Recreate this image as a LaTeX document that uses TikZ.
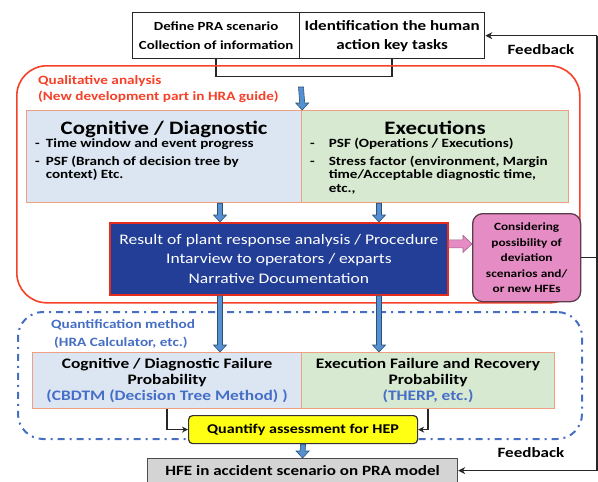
\documentclass[tikz,border=0pt]{standalone}
\usepackage{fontspec}
\setmainfont{Carlito}[FakeStretch=1.2]
\usetikzlibrary{calc,arrows.meta}
\definecolor{qred}{RGB}{246,64,40}
\definecolor{cogfill}{RGB}{220,230,242}
\definecolor{execfill}{RGB}{215,233,208}
\definecolor{salmon}{RGB}{240,160,130}
\definecolor{dblue}{RGB}{34,62,150}
\definecolor{dred}{RGB}{228,45,30}
\definecolor{pinkfill}{RGB}{230,140,196}
\definecolor{pinkbd}{RGB}{90,60,75}
\definecolor{ablue}{RGB}{85,145,210}
\definecolor{qblue}{RGB}{70,110,195}
\definecolor{tblue}{RGB}{70,110,200}
\definecolor{hyellow}{RGB}{255,255,20}
\definecolor{hgray}{RGB}{212,212,212}
\newcommand\blkdown[2]{%
  \draw[fill=ablue, draw=ablue!55!black, line width=0.6pt]
    ($(#1)+(-2.5,0)$) -- ($(#2)+(-2.5,-7)$) -- ($(#2)+(-6.5,-7)$) -- (#2)
    -- ($(#2)+(6.5,-7)$) -- ($(#2)+(2.5,-7)$) -- ($(#1)+(2.5,0)$) -- cycle;}
\newcommand\blkright[2]{%
  \draw[fill=pinkfill, draw=pinkfill!70!black, line width=0.6pt]
    ($(#1)+(0,-4)$) -- ($(#2)+(-9,-4)$) -- ($(#2)+(-9,-8.5)$) -- (#2)
    -- ($(#2)+(-9,8.5)$) -- ($(#2)+(-9,4)$) -- ($(#1)+(0,4)$) -- cycle;}
\begin{document}
\begin{tikzpicture}[x=1pt,y=-1pt,
  topbox/.style={draw=black!85, line width=1.3pt, inner sep=0pt, anchor=north west, align=center},
  pbox/.style={draw=salmon, line width=1.2pt, inner sep=0pt, anchor=north west},
  txt/.style={inner sep=0pt},
  fbarrow/.style={line width=1.5pt, draw=black!85, -{Stealth[length=7pt,width=7pt]}},
  elb/.style={line width=1.3pt, draw=black!85, -{Stealth[length=6pt,width=6pt]}}]
\useasboundingbox (0,0) rectangle (598,482);

% top boxes
\node[topbox, minimum width=167pt, minimum height=46pt, font=\bfseries\fontsize{12.4}{19}\selectfont] (top1) at (132,12) {Define PRA scenario\\Collection of information};
\node[topbox, minimum width=185pt, minimum height=46pt, font=\bfseries\fontsize{14.2}{19}\selectfont] (top2) at (299,12) {Identification the human\\action key tasks};
\draw[line width=1.5pt, draw=black!85] (top1.south) -- ($(top1.south)+(0,17)$) -| (top2.south);

% qualitative frame
\node[draw=qred, line width=1.6pt, rounded corners=30pt, minimum width=563pt, minimum height=237pt, anchor=north west, inner sep=0pt] (qual) at (16,65) {};
\node[txt, anchor=north west, align=left, text=qred, font=\bfseries\fontsize{12.7}{16}\selectfont] (qualT) at (38,75) {Qualitative analysis\\(New development part in HRA guide)};

\node[pbox, fill=cogfill, minimum width=275pt, minimum height=92pt] (cog) at (26,110) {};
\node[pbox, fill=execfill, minimum width=267pt, minimum height=92pt] (exec) at (301,110) {};
\node[txt, anchor=base, font=\bfseries\fontsize{19}{22}\selectfont] (cogT) at ($(cog.north)+(0,24)$) {Cognitive / Diagnostic};
\node[txt, anchor=base, font=\bfseries\fontsize{19}{22}\selectfont] (execT) at ($(exec.north)+(0,24)$) {Executions};
\node[txt, anchor=north west, align=left, font=\bfseries\fontsize{12.6}{13.5}\selectfont] (cogB) at (35,138)
  {\begin{tabular}{@{}l@{\hspace{6pt}}l@{}}-&Time window and event progress\\[4pt]-&PSF (Branch of decision tree by\\&context) Etc.\end{tabular}};
\node[txt, anchor=north west, align=left, font=\bfseries\fontsize{12.6}{13.5}\selectfont] (execB) at (310,138)
  {\begin{tabular}{@{}l@{\hspace{14pt}}l@{}}-&PSF (Operations / Executions)\\[4pt]-&Stress factor (environment, Margin\\&time/Acceptable diagnostic time,\\&etc.,\end{tabular}};

\coordinate (a0) at (301,87);
\blkdown{a0}{cog.north east}

\node[draw=dred, line width=1.8pt, fill=dblue, minimum width=338pt, minimum height=72pt, anchor=north west, inner sep=0pt, text=white, align=center, font=\fontsize{14.6}{19.5}\selectfont] (res) at (109,222)
  {Result of plant response analysis / Procedure\\Intarview to operators / exparts\\Narrative Documentation};
\coordinate (ax1) at (220,0);
\coordinate (ax2) at (379,0);
\blkdown{cog.south -| ax1}{res.north -| ax1}
\blkdown{exec.south -| ax2}{res.north -| ax2}

\node[draw=pinkbd, line width=1.3pt, fill=pinkfill, rounded corners=10pt, minimum width=108pt, minimum height=88pt, anchor=north west, inner sep=0pt, align=center, font=\bfseries\fontsize{11.1}{15.5}\selectfont] (pink) at (472,213)
  {Considering\\possibility of\\deviation\\scenarios and/\\or new HFEs};
\path (res.east) ++(0,-15) coordinate (pa1);
\coordinate (pa2) at (pa1 -| pink.west);
\blkright{pa1}{pa2}

% quantification frame
\node[draw=qblue, line width=2pt, dash pattern=on 7pt off 5pt on 2pt off 5pt, rounded corners=25pt, minimum width=564pt, minimum height=127pt, anchor=north west, inner sep=0pt] (quant) at (17,311) {};
\node[txt, anchor=north west, align=left, text=qblue, font=\bfseries\fontsize{12.7}{18}\selectfont] (quantT) at (51,319) {Quantification method\\\hspace{3pt}(HRA Calculator, etc.)};

\node[pbox, fill=cogfill, minimum width=269pt, minimum height=56pt, align=center, font=\bfseries\fontsize{14.5}{16}\selectfont] (cfp) at (32,352)
  {Cognitive / Diagnostic Failure\\Probability\\\textcolor{tblue}{(CBDTM (Decision Tree Method) )}};
\node[pbox, fill=execfill, minimum width=253pt, minimum height=56pt, align=center, font=\bfseries\fontsize{14.5}{16}\selectfont] (efp) at (301,352)
  {Execution Failure and Recovery\\Probability\\\textcolor{tblue}{(THERP, etc.)}};
\blkdown{res.south -| ax1}{cfp.north -| ax1}
\blkdown{res.south -| ax2}{efp.north -| ax2}

\node[draw=black!80, line width=1.2pt, fill=hyellow, rounded corners=4pt, minimum width=229pt, minimum height=28pt, anchor=north west, inner sep=0pt, font=\bfseries\fontsize{13.4}{16}\selectfont] (hep) at (188,415) {Quantify assessment for HEP};
\coordinate (ex1) at (167,0);
\coordinate (ex2) at (428,0);
\draw[elb] (cfp.south -| ex1) |- (hep.west);
\draw[elb] (efp.south -| ex2) |- (hep.east);

\node[draw=black!70, line width=1.2pt, fill=hgray, minimum width=310pt, minimum height=24pt, anchor=north west, inner sep=0pt, font=\bfseries\fontsize{14.2}{16}\selectfont] (gray) at (147,458) {HFE in accident scenario on PRA model};
\blkdown{hep.south}{gray.north}

% feedback
\coordinate (rx) at (597,0);
\coordinate (fbtop) at (top2.east -| rx);
\coordinate (fbbot) at (gray.east -| rx);
\draw[line width=1.5pt, draw=black!85] (fbtop) -- (fbbot);
\draw[fbarrow] (fbtop) -- (top2.east);
\draw[fbarrow] (fbbot) -- (gray.east);
\draw[line width=1.5pt, draw=black!85] (pink.east) -- (pink.east -| rx);
\node[txt, font=\bfseries\fontsize{14.2}{16}\selectfont] (fb1) at (541,50) {Feedback};
\node[txt, font=\bfseries\fontsize{14.2}{16}\selectfont] (fb2) at (531,453) {Feedback};
\end{tikzpicture}
\end{document}
